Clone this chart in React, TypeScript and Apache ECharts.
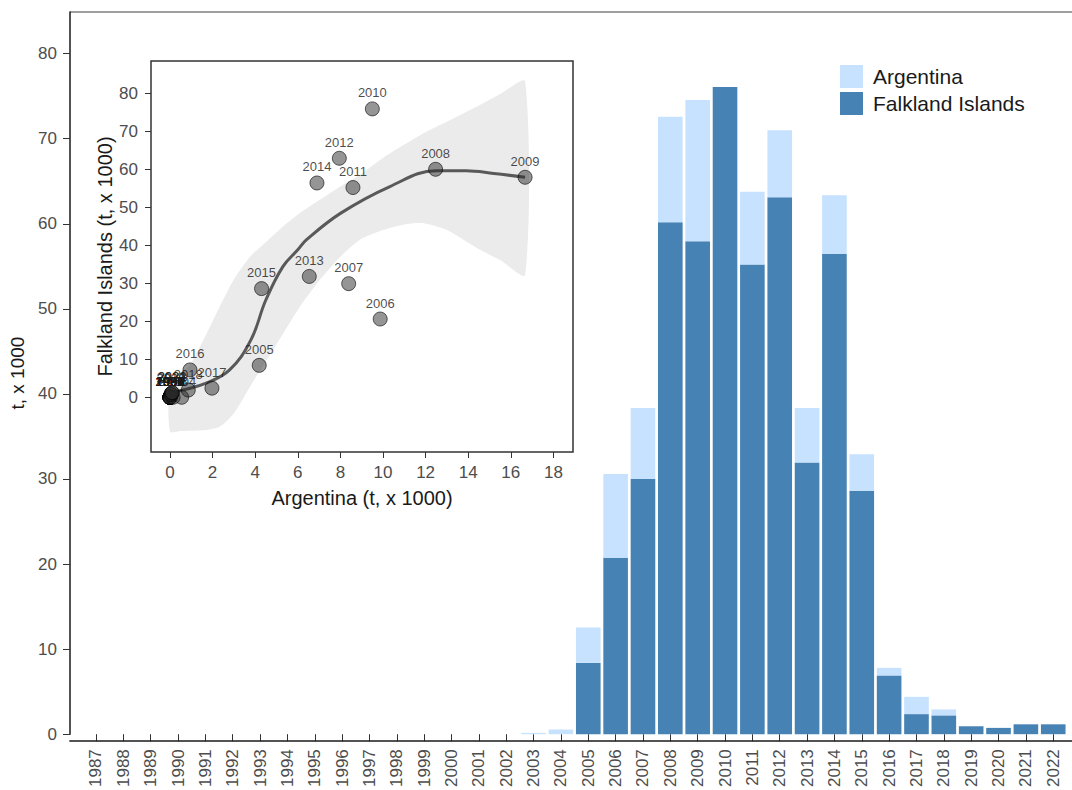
import React, { useEffect, useRef } from "react";
import * as echarts from "echarts";

// ---- Main chart data (t, x 1000) ----
const years = [
  1987, 1988, 1989, 1990, 1991, 1992, 1993, 1994, 1995, 1996, 1997, 1998,
  1999, 2000, 2001, 2002, 2003, 2004, 2005, 2006, 2007, 2008, 2009, 2010,
  2011, 2012, 2013, 2014, 2015, 2016, 2017, 2018, 2019, 2020, 2021, 2022,
];
const falklandCatch = [
  0, 0, 0, 0, 0, 0, 0, 0, 0, 0, 0, 0,
  0, 0, 0, 0, 0, 0, 8.38, 20.73, 30.01, 60.17, 57.96, 76.08,
  55.23, 63.12, 31.94, 56.48, 28.61, 6.91, 2.36, 2.21, 0.93, 0.74, 1.16, 1.16,
];
const argentinaCatch = [
  0, 0, 0, 0, 0, 0, 0, 0, 0, 0, 0, 0,
  0, 0, 0, 0, 0.15, 0.55, 4.16, 9.86, 8.34, 12.41, 16.6, 0,
  8.55, 7.88, 6.41, 6.87, 4.31, 0.89, 2.03, 0.7, 0, 0, 0, 0,
];
const mainYTicks = [0, 10, 20, 30, 40, 50, 60, 70, 80];

// ---- Inset scatter data ----
const insetArgentina = [
  0, 0, 0, 0, 0, 0, 0, 0, 0, 0, 0, 0,
  0, 0, 0, 0, 0.15, 0.55, 4.19, 9.87, 8.39, 12.47, 16.67, 9.5,
  8.59, 7.95, 6.54, 6.9, 4.3, 0.94, 1.97, 0.86, 0.05, 0.05, 0.1, 0.1,
];
const insetFalkland = [
  0, 0, 0, 0, 0, 0, 0, 0, 0, 0, 0, 0,
  0, 0, 0, 0, 0, 0, 8.4, 20.6, 29.9, 60.0, 57.9, 75.9,
  55.2, 62.9, 31.8, 56.4, 28.6, 7.2, 2.4, 1.9, 0.9, 0.7, 1.2, 1.2,
];
const insetXTicks = [0, 2, 4, 6, 8, 10, 12, 14, 16, 18];
const insetYTicks = [0, 10, 20, 30, 40, 50, 60, 70, 80];

// smoother (loess) line
const smoothX = [0, 0.6, 1.7, 2.8, 3.8, 4.5, 5.3, 6.0, 6.4, 8.0, 10.3, 12.5, 13.9, 15.2, 16.67];
const smoothY = [1.0, 1.9, 3.7, 7.2, 15.1, 25.6, 34.4, 38.8, 41.4, 48.4, 55.4, 59.6, 59.6, 58.9, 57.9];

// confidence band
const bandX = [0, 0.5, 1, 1.7, 2.35, 3, 3.76, 4.54, 5.32, 6.1, 7.04, 8, 8.9, 10, 11, 11.9, 13, 14.55, 15.5, 16.67];
const bandLower = [-9, -8.9, -8.8, -8.6, -7.7, -4.2, 2.8, 9.8, 16.8, 23.8, 30.9, 37, 41.4, 44, 45.5, 45.8, 44, 38.8, 36.1, 32.2];
const bandUpper = [4, 5.5, 9, 16.5, 24, 31, 37, 41, 45, 48.5, 52, 55.5, 58.5, 63, 66.5, 69.5, 72.5, 76.9, 79.8, 83.1];

const FONT = "'Liberation Sans', Arial, Helvetica, sans-serif";
const DARK = "#4682B4";
const LIGHT = "#C6E2FF";

export default function App() {
  const ref = useRef<HTMLDivElement>(null);

  useEffect(() => {
    document.body.style.margin = "0";
    if (!ref.current) return;
    const chart = echarts.init(ref.current, undefined, { renderer: "svg" });

    const option: any = {
      animation: false,
      backgroundColor: "#ffffff",
      textStyle: { fontFamily: FONT },
      legend: {
        orient: "vertical",
        left: 835,
        top: 60,
        itemWidth: 23,
        itemHeight: 23,
        itemGap: 4,
        icon: "rect",
        data: ["Argentina", "Falkland Islands"],
        textStyle: { fontSize: 21, color: "#1a1a1a", fontFamily: FONT, padding: [0, 0, 0, 5] },
        selectedMode: false,
      },
      grid: [
        { left: 82.3, right: 5.1, top: 12, bottom: 49, containLabel: false },
        {
          left: 151, top: 61, width: 422, height: 391, containLabel: false,
          show: true, backgroundColor: "#ffffff", borderColor: "#333333", borderWidth: 1.5, z: 5,
        },
      ],
      xAxis: [
        {
          type: "category",
          gridIndex: 0,
          data: years.map(String),
          boundaryGap: true,
          axisLine: { show: false },
          axisTick: { show: true, length: 7, alignWithLabel: true, interval: 0, lineStyle: { color: "#333333" } },
          axisLabel: {
            interval: 0,
            rotate: 90,
            margin: 15,
            fontSize: 17,
            color: "#4d4d4d",
            fontFamily: FONT,
          },
        },
        {
          type: "value",
          gridIndex: 1,
          min: -0.89,
          max: 18.92,
          splitLine: { show: false },
          axisLine: { show: false, onZero: false },
          axisTick: { show: true, length: 6, customValues: insetXTicks, lineStyle: { color: "#333333" } },
          axisLabel: {
            customValues: insetXTicks,
            margin: 12,
            fontSize: 17,
            color: "#4d4d4d",
            fontFamily: FONT,
          },
          name: "Argentina (t, x 1000)",
          nameLocation: "middle",
          nameGap: 36,
          nameTextStyle: { fontSize: 20, color: "#1a1a1a", fontFamily: FONT },
          z: 6,
        },
      ],
      yAxis: [
        {
          type: "value",
          gridIndex: 0,
          min: 0,
          max: 84.9,
          offset: 12.3,
          splitLine: { show: false },
          axisLine: { show: true, lineStyle: { color: "#1a1a1a", width: 1.5 } },
          axisTick: { show: true, length: 7, customValues: mainYTicks, lineStyle: { color: "#333333" } },
          axisLabel: {
            customValues: mainYTicks,
            margin: 13,
            fontSize: 17,
            color: "#4d4d4d",
            fontFamily: FONT,
          },
          name: "t, x 1000",
          nameLocation: "middle",
          nameGap: 36,
          nameTextStyle: { fontSize: 19, color: "#1a1a1a", fontFamily: FONT },
        },
        {
          type: "value",
          gridIndex: 1,
          min: -14.4,
          max: 88.5,
          splitLine: { show: false },
          axisLine: { show: false, onZero: false },
          axisTick: { show: true, length: 6, customValues: insetYTicks, lineStyle: { color: "#333333" } },
          axisLabel: {
            customValues: insetYTicks,
            margin: 13,
            fontSize: 17,
            color: "#4d4d4d",
            fontFamily: FONT,
          },
          name: "Falkland Islands (t, x 1000)",
          nameLocation: "middle",
          nameGap: 36,
          nameTextStyle: { fontSize: 20, color: "#1a1a1a", fontFamily: FONT },
          z: 6,
        },
      ],
      graphic: [
        {
          type: "line",
          shape: { x1: 70, y1: 12, x2: 1072, y2: 12 },
          style: { stroke: "#7f7f7f", lineWidth: 1.5 },
          silent: true,
        },
        {
          type: "line",
          shape: { x1: 69.3, y1: 741, x2: 1072, y2: 741 },
          style: { stroke: "#1a1a1a", lineWidth: 1.5 },
          silent: true,
          z: 10,
        },
      ],
      series: [
        {
          name: "Falkland Islands",
          type: "bar",
          xAxisIndex: 0,
          yAxisIndex: 0,
          stack: "catch",
          barWidth: "90%",
          itemStyle: { color: DARK },
          data: falklandCatch,
        },
        {
          name: "Argentina",
          type: "bar",
          xAxisIndex: 0,
          yAxisIndex: 0,
          stack: "catch",
          barWidth: "90%",
          itemStyle: { color: LIGHT },
          data: argentinaCatch,
        },
        {
          name: "band",
          type: "custom",
          xAxisIndex: 1,
          yAxisIndex: 1,
          silent: true,
          z: 6,
          clip: true,
          data: bandX.map((x, i) => [x, bandLower[i], bandUpper[i]]),
          encode: { x: 0, y: [1, 2] },
          renderItem: (params: any, api: any) => {
            if (params.dataIndex !== 0) return null;
            const pts: number[][] = [];
            for (let i = 0; i < bandX.length; i++) pts.push(api.coord([bandX[i], bandUpper[i]]));
            for (let i = bandX.length - 1; i >= 0; i--) pts.push(api.coord([bandX[i], bandLower[i]]));
            return {
              type: "polygon",
              shape: { points: pts, smooth: 0.25 },
              style: { fill: "#ebebeb" },
            };
          },
        },
        {
          name: "smooth",
          type: "line",
          xAxisIndex: 1,
          yAxisIndex: 1,
          z: 7,
          smooth: 0.4,
          showSymbol: false,
          silent: true,
          lineStyle: { color: "#595959", width: 3 },
          data: smoothX.map((x, i) => [x, smoothY[i]]),
        },
        {
          name: "years",
          type: "scatter",
          xAxisIndex: 1,
          yAxisIndex: 1,
          z: 8,
          symbolSize: 14,
          itemStyle: { color: "rgba(40,40,40,0.62)", borderColor: "rgba(0,0,0,0.75)", borderWidth: 1 },
          label: {
            show: true,
            position: "top",
            distance: 2,
            formatter: "{b}",
            fontSize: 13,
            color: "#1a1a1a",
            fontFamily: FONT,
          },
          data: years.map((y, i) => ({ name: String(y), value: [insetArgentina[i], insetFalkland[i]] })),
        },
      ],
    };

    chart.setOption(option);
    return () => chart.dispose();
  }, []);

  return (
    <div
      ref={ref}
      style={{ position: "absolute", left: 0, top: 0, width: 1072, height: 790 }}
    />
  );
}
